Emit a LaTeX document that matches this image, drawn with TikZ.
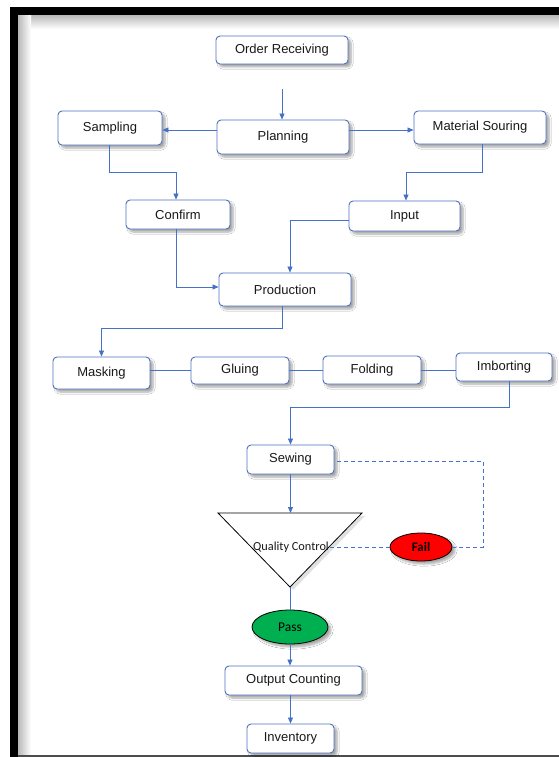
\documentclass[tikz,border=0pt]{standalone}
\usepackage{fontspec}
\setmainfont{Liberation Sans}
\newfontfamily\calibrifont{Carlito}
\usetikzlibrary{arrows.meta,shapes.geometric,shadows,shadows.blur}

\definecolor{boxline}{RGB}{79,113,190}
\definecolor{linkblue}{RGB}{68,114,196}
\definecolor{dashblue}{RGB}{72,112,214}
\definecolor{failred}{RGB}{255,0,0}
\definecolor{passgreen}{RGB}{0,176,80}
\definecolor{txt}{RGB}{25,25,25}

\tikzset{
  stepbox/.style={draw=boxline, line width=0.9pt, rounded corners=4pt, fill=white,
    text=txt, font=\fontsize{13}{15}\selectfont, inner sep=0pt,
    blur shadow={shadow xshift=3pt, shadow yshift=-3pt, shadow blur steps=6, shadow opacity=35}},
  outcome/.style={ellipse, draw=black, line width=0.8pt, inner sep=0pt,
    font=\calibrifont\fontsize{13.5}{15}\selectfont,
    blur shadow={shadow xshift=3pt, shadow yshift=-3pt, shadow blur steps=6, shadow opacity=35}},
  arr/.style={draw=linkblue, line width=0.8pt, -{Triangle[length=6pt,width=5pt]}},
  link/.style={draw=linkblue, line width=0.8pt},
  dashlink/.style={draw=dashblue, line width=1pt, dash pattern=on 4pt off 3pt},
}

\begin{document}
\begin{tikzpicture}[x=1pt, y=-1pt]
\useasboundingbox (0,0) rectangle (559,757);

% page frame with inner shade
\fill[white] (18,15) rectangle (559,755);
\shade[top color=gray!55, bottom color=white] (18,15) rectangle (559,29);
\shade[left color=gray!55, right color=white] (18,15) rectangle (31,755);
\fill[black] (10,7) rectangle (559,15);
\fill[black] (10,7) rectangle (18,757);
\draw[gray!60!black, line width=1.6pt] (18,755.7) -- (559,755.7);

% process steps
\node[stepbox, minimum width=132pt, minimum height=28pt] (order) at (282,50) {Order Receiving};
\node[stepbox, minimum width=132pt, minimum height=34pt] (plan) at (283,137) {Planning};
\node[stepbox, minimum width=104pt, minimum height=34pt] (samp) at (110,128) {Sampling};
\node[stepbox, minimum width=132pt, minimum height=33pt] (mat) at (480,127.5) {Material Souring};
\node[stepbox, minimum width=104pt, minimum height=29pt] (conf) at (178,214.5) {Confirm};
\node[stepbox, minimum width=111pt, minimum height=30pt] (input) at (404.5,216) {Input};
\node[stepbox, minimum width=132pt, minimum height=33pt] (prod) at (285,289.5) {Production};
\node[stepbox, minimum width=97pt, minimum height=32pt] (mask) at (101.5,373) {Masking};
\node[stepbox, minimum width=98pt, minimum height=27pt] (glue) at (240,370.5) {Gluing};
\node[stepbox, minimum width=98pt, minimum height=28pt] (fold) at (372,370) {Folding};
\node[stepbox, minimum width=96pt, minimum height=28pt] (imp) at (504,367) {Imborting};
\node[stepbox, minimum width=87pt, minimum height=29pt] (sew) at (290.5,459.5) {Sewing};
\node[stepbox, minimum width=137pt, minimum height=29pt] (outc) at (293.5,680.5) {Output Counting};
\node[stepbox, minimum width=87pt, minimum height=29pt] (inv) at (290.5,738.5) {Inventory};

% quality control triangle
\coordinate (qcl) at (218,513);
\coordinate (qcr) at (362,513);
\coordinate (qca) at (290,587);
\coordinate (qctop) at (290.5,513);
\fill[black, opacity=0.12] ([xshift=3pt,yshift=-3pt]qcl) -- ([xshift=3pt,yshift=-3pt]qcr) -- ([xshift=3pt,yshift=-3pt]qca) -- cycle;
\draw[black, line width=0.8pt, fill=white] (qcl) -- (qcr) -- (qca) -- cycle;
\node[font=\calibrifont\fontsize{12.3}{14}\selectfont, text=txt, inner sep=1pt] (qc) at (291,547) {Quality Control};

% outcomes
\node[outcome, fill=failred, minimum width=62pt, minimum height=28pt,
      font=\calibrifont\bfseries\fontsize{13}{15}\selectfont] (fail) at (421,547) {Fail};
\node[outcome, fill=passgreen, minimum width=76pt, minimum height=34pt] (pass) at (290,627) {Pass};

% connectors
\coordinate (ostart) at (282,89);
\draw[arr] (ostart) -- (ostart |- plan.north);

\coordinate (pl) at ([yshift=7pt]plan.west);
\coordinate (pr) at ([yshift=7pt]plan.east);
\draw[arr] (pl) -- (pl -| samp.east);
\draw[arr] (pr) -- (pr -| mat.west);

\draw[arr] ([xshift=-1pt]samp.south) -- ++(0,27) -| ([xshift=-2pt]conf.north);
\draw[arr] ([xshift=2pt]mat.south) -- ++(0,28) -| ([xshift=1.5pt]input.north);
\draw[arr] ([yshift=-4pt]input.west) -| ([xshift=5pt]prod.north);
\draw[arr] ([xshift=-2pt]conf.south) |- ([yshift=2.5pt]prod.west);
\draw[arr] ([xshift=-3pt]prod.south) -- ++(0,22) -| (mask.north);

\draw[link] (glue.west -| mask.east) -- (glue.west);
\draw[link] (glue.east) -- (glue.east -| fold.west);
\draw[link] (fold.east) -- (fold.east -| imp.west);

\draw[arr] ([xshift=5pt]imp.south) -- ++(0,26) -| (sew.north);
\draw[arr] (sew.south) -- (qctop);

\coordinate (fb) at (483,461);
\draw[dashlink] (qc.east) -- (fail.west);
\draw[dashlink] (fail.east) -| (fb) -- (fb -| sew.east);

\draw[link] (qca) -- (pass.north);
\draw[arr] (pass.south) -- (pass.south |- outc.north);
\draw[arr] (inv.north |- outc.south) -- (inv.north);
\end{tikzpicture}
\end{document}
